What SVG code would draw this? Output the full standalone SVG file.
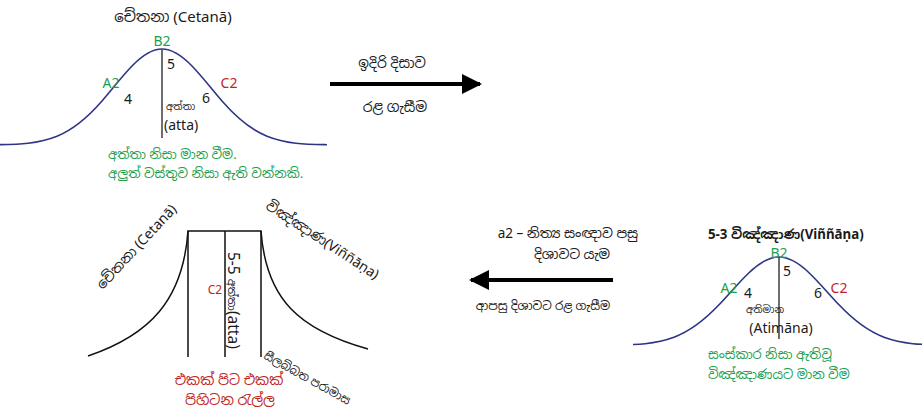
<svg xmlns="http://www.w3.org/2000/svg" width="922" height="412" viewBox="0 0 922 412">
<style>
text{font-family:"Noto Sans","Noto Sans Sinhala","Liberation Sans",sans-serif;fill:#1a1a1a;font-size:14px}
.g{fill:#1e9f4e}
.r{fill:#c0261e}
.s{font-size:12px}
.m{text-anchor:middle}
.bell{fill:none;stroke:#2e3586;stroke-width:1.6}
.ln{stroke:#4a4a4a;stroke-width:1.6;fill:none}
.bk{stroke:#111;stroke-width:1.5;fill:none}
.arr{stroke:#000;stroke-width:4;fill:none}
</style>
<defs>
<path id="bellp" d="M-165,95.7 C-145,95.3 -125,95.2 -105,87.2 C-90,81.2 -75,69.2 -60,52 C-50,40.5 -40,27.3 -30,17 C-20,6.7 -10,0 0,0 C10,0 20,6.7 30,17 C40,27.3 50,40.5 60,52 C75,69.2 90,81.2 105,87.2 C125,95.2 145,95.3 165,95.7"/>
<marker id="ah" viewBox="0 0 10 10" refX="9" refY="5" markerWidth="5" markerHeight="5" markerUnits="strokeWidth" orient="auto">
<path d="M0,0 L10,5 L0,10 z" fill="#000"/>
</marker>
<clipPath id="cr"><rect x="633" y="200" width="300" height="200"/></clipPath>
</defs>

<g id="node-top-cetana">
<text class="m" x="173" y="22" style="font-size:15px">චේතනා (Cetanā)</text>
<use href="#bellp" class="bell" transform="translate(162,49)"/>
<line class="ln" x1="162" y1="49" x2="162" y2="138"/>
<text class="g m" x="162" y="46">B2</text>
<text class="g m" x="111" y="88">A2</text>
<text class="r m" x="229" y="88">C2</text>
<text class="m" x="171" y="69">5</text>
<text class="m" x="128" y="104">4</text>
<text class="m" x="206" y="103">6</text>
<text x="166" y="110" style="font-size:10px">අත්තා</text>
<text x="164" y="130">(atta)</text>
<text class="g" x="108" y="159" style="font-size:13px">අත්තා නිසා මාන වීම.</text>
<text class="g" x="108" y="178" style="font-size:13px">අලුත් වස්තුව නිසා ඇති වන්නකි.</text>
</g>

<g id="node-bottom-left">
<path class="bk" d="M188,357 L188,231 L261,231 L261,357 M225,231 L225,357"/>
<path class="bk" d="M188,231 C183,300 150,335 88,356"/>
<path class="bk" d="M261,231 C266,300 300,330 368,349"/>
<text class="m" transform="translate(140,250) rotate(-47)">චේතනා (Cetanā)</text>
<text class="m" transform="translate(320,244) rotate(33)">විඤ්ඤාණ(Viññāṇa)</text>
<text transform="translate(228,252) rotate(90)" style="font-size:15.5px">5-5 <tspan style="font-size:11px">අත්තා</tspan>(atta)</text>
<text class="r m" x="215" y="294" style="font-size:12px">C2</text>
<text transform="translate(263,358) rotate(29)" style="font-size:11.5px">සීලබ්බත පරාමාස</text>
<text class="r m" x="229" y="385">එකක් පිට එකක්</text>
<text class="r m" x="230" y="405">පිහිටන රැල්ල</text>
</g>

<g id="node-bottom-right">
<text x="708" y="239" style="font-weight:bold;font-size:13.3px">5-3 විඤ්ඤාණ(Viññāṇa)</text>
<g clip-path="url(#cr)">
<use href="#bellp" class="bell" transform="translate(779,257) scale(1,0.92)"/>
</g>
<line class="ln" x1="779" y1="257" x2="779" y2="339"/>
<text class="g m" x="779" y="258">B2</text>
<text class="g m" x="729" y="293">A2</text>
<text class="r m" x="839" y="293">C2</text>
<text class="m" x="787" y="276">5</text>
<text class="m" x="748" y="298">4</text>
<text class="m" x="818" y="298">6</text>
<text class="m" x="765" y="313" style="font-size:10px">අතිමාන</text>
<text class="m" x="781" y="333">(Atimāna)</text>
<text class="g" x="708" y="359" style="font-size:13px">සංස්කාර නිසා ඇතිවූ</text>
<text class="g" x="708" y="379" style="font-size:13px">විඤ්ඤාණයට මාන වීම</text>
</g>

<g id="connectors">
<line class="arr" x1="330" y1="84" x2="480" y2="84" marker-end="url(#ah)"/>
<text class="m" x="392" y="68">ඉදිරි දිසාව</text>
<text class="m" x="395" y="112">රළ ගැසීම</text>
<line class="arr" x1="613" y1="280" x2="471" y2="280" marker-end="url(#ah)"/>
<text class="m" x="568" y="238" style="font-size:13.5px">a2 – නිත්‍ය සංඥාව පසු</text>
<text class="m" x="572" y="259" style="font-size:13.5px">දිශාවට යැම</text>
<text class="m" x="543" y="310" style="font-size:12px">ආපසු දිශාවට රළ ගැසීම</text>
</g>
</svg>
